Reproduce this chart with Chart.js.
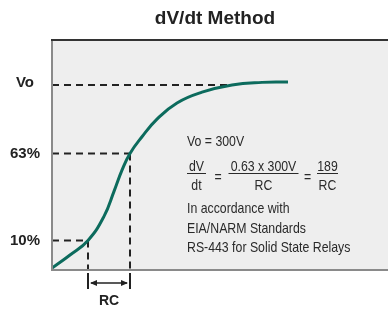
<!DOCTYPE html>
<html>
<head>
<meta charset="utf-8">
<script src="https://cdn.jsdelivr.net/npm/chart.js@4/dist/chart.umd.min.js"></script>
<style>
  html, body { margin: 0; padding: 0; background: #ffffff; }
  #wrap { width: 388px; height: 310px; position: relative; }
</style>
</head>
<body>
<div id="wrap"><canvas id="c" width="388" height="310"></canvas></div>
<script>
// ---- data (percent of Vo vs. time units) ----
const curveX = [0, 18, 36, 52, 62, 70, 78, 90, 105, 125, 150, 180, 210, 236];
const curveY = [1, 8.1, 16, 29, 42.5, 54, 63, 72, 81.5, 90.3, 96.1, 100, 101.4, 101.6];
const levelLabels = ['Vo', '63%', '10%'];
const levelValues = [100, 63, 16];
const levelEnds = [175, 78, 36];        // x where each horizontal guide stops
const dropX = [36, 78];                 // time points of 10% and 63%
const dropY = [16, 63];
const titleText = 'dV/dt Method';
const noteVo = 'Vo = 300V';
const fracLeft = ['dV', 'dt'];
const fracMid = ['0.63 x 300V', 'RC'];
const fracRight = ['189', 'RC'];
const noteLines = ['In accordance with', 'EIA/NARM Standards', 'RS-443 for Solid State Relays'];
const rcLabel = 'RC';

const curveColor = '#0c6b5d';
const dashColor = '#222222';
const SANS = '"Liberation Sans", Arial, Helvetica, sans-serif';

const datasets = [{
  label: 'curve',
  data: curveX.map((x, i) => ({ x: x, y: curveY[i] })),
  borderColor: curveColor,
  borderWidth: 3,
  pointRadius: 0,
  tension: 0.45,
  fill: false,
  order: 0
}];
levelValues.forEach((v, i) => {
  datasets.push({
    label: 'h' + i,
    data: [{ x: 0, y: v }, { x: levelEnds[i], y: v }],
    borderColor: dashColor, borderWidth: 2, borderDash: [7, 5],
    pointRadius: 0, tension: 0, fill: false, order: 1
  });
});
dropX.forEach((x, i) => {
  datasets.push({
    label: 'v' + i,
    data: [{ x: x, y: dropY[i] }, { x: x, y: 0 }],
    borderColor: dashColor, borderWidth: 2, borderDash: [7, 5],
    pointRadius: 0, tension: 0, fill: false, order: 1
  });
});

function narrowText(ctx, text, x, y, align) {
  ctx.save();
  ctx.translate(x, y);
  ctx.scale(0.82, 1);
  ctx.textAlign = align;
  ctx.fillText(text, 0, 0);
  ctx.restore();
}

const decor = {
  id: 'decor',
  beforeDatasetsDraw(chart) {
    const { ctx, chartArea: a } = chart;
    ctx.save();
    ctx.fillStyle = '#eeeeee';
    ctx.fillRect(a.left, a.top, a.right - a.left, a.bottom - a.top);
    ctx.restore();
  },
  afterDatasetsDraw(chart) {
    const { ctx, chartArea: a, scales } = chart;
    const xs = scales.x, ys = scales.y;
    ctx.save();
    // borders
    ctx.lineWidth = 2;
    ctx.strokeStyle = '#8a8a8a';
    ctx.beginPath();
    ctx.moveTo(a.left, a.top); ctx.lineTo(a.left, a.bottom); ctx.lineTo(a.right, a.bottom);
    ctx.stroke();
    ctx.strokeStyle = '#333333';
    ctx.beginPath();
    ctx.moveTo(a.left - 1, a.top); ctx.lineTo(a.right, a.top);
    ctx.stroke();

    // title
    ctx.fillStyle = '#222222';
    ctx.font = 'bold 19px ' + SANS;
    ctx.textAlign = 'center';
    ctx.textBaseline = 'alphabetic';
    ctx.fillText(titleText, 215, 23.5);

    // level labels
    ctx.font = 'bold 15px ' + SANS;
    ctx.textBaseline = 'middle';
    levelLabels.forEach((t, i) => {
      const y = ys.getPixelForValue(levelValues[i]) + (i === 0 ? -2 : 0);
      ctx.fillText(t, 25, y);
    });

    // RC marker
    const x1 = xs.getPixelForValue(dropX[0]);
    const x2 = xs.getPixelForValue(dropX[1]);
    const ay = a.bottom + 13;
    ctx.strokeStyle = '#222222';
    ctx.fillStyle = '#222222';
    ctx.lineWidth = 2;
    ctx.beginPath();
    ctx.moveTo(x1, a.bottom + 3); ctx.lineTo(x1, a.bottom + 19);
    ctx.moveTo(x2, a.bottom + 3); ctx.lineTo(x2, a.bottom + 19);
    ctx.stroke();
    ctx.lineWidth = 1.5;
    ctx.beginPath();
    ctx.moveTo(x1 + 3, ay); ctx.lineTo(x2 - 3, ay);
    ctx.stroke();
    ctx.beginPath();
    ctx.moveTo(x1 + 2, ay); ctx.lineTo(x1 + 9, ay - 3); ctx.lineTo(x1 + 9, ay + 3); ctx.closePath();
    ctx.moveTo(x2 - 2, ay); ctx.lineTo(x2 - 9, ay - 3); ctx.lineTo(x2 - 9, ay + 3); ctx.closePath();
    ctx.fill();
    ctx.font = 'bold 14px ' + SANS;
    ctx.textAlign = 'center';
    ctx.textBaseline = 'alphabetic';
    ctx.fillText(rcLabel, (x1 + x2) / 2, a.bottom + 35);

    // notes
    ctx.fillStyle = '#2a2a2a';
    ctx.strokeStyle = '#2a2a2a';
    ctx.font = '15px ' + SANS;
    narrowText(ctx, noteVo, 187, 146, 'left');
    const fr = (lines, cx, w) => {
      narrowText(ctx, lines[0], cx, 171, 'center');
      narrowText(ctx, lines[1], cx, 190, 'center');
      ctx.lineWidth = 1;
      ctx.beginPath();
      ctx.moveTo(cx - w / 2, 173.5); ctx.lineTo(cx + w / 2, 173.5);
      ctx.stroke();
    };
    fr(fracLeft, 196.5, 19);
    fr(fracMid, 263.5, 70);
    fr(fracRight, 327.5, 21);
    narrowText(ctx, '=', 218, 182, 'center');
    narrowText(ctx, '=', 307.5, 182, 'center');
    noteLines.forEach((t, i) => narrowText(ctx, t, 187, 213 + i * 19.5, 'left'));
    ctx.restore();
  }
};

new Chart(document.getElementById('c'), {
  type: 'line',
  data: { datasets: datasets },
  options: {
    responsive: false,
    animation: false,
    devicePixelRatio: 1,
    layout: { padding: { left: 52, top: 40, right: 0, bottom: 40 } },
    plugins: { legend: { display: false }, title: { display: false }, tooltip: { enabled: false } },
    scales: {
      x: { type: 'linear', min: 0, max: 336, display: false },
      y: { type: 'linear', min: 0, max: 124.3, display: false }
    }
  },
  plugins: [decor]
});
</script>
</body>
</html>
